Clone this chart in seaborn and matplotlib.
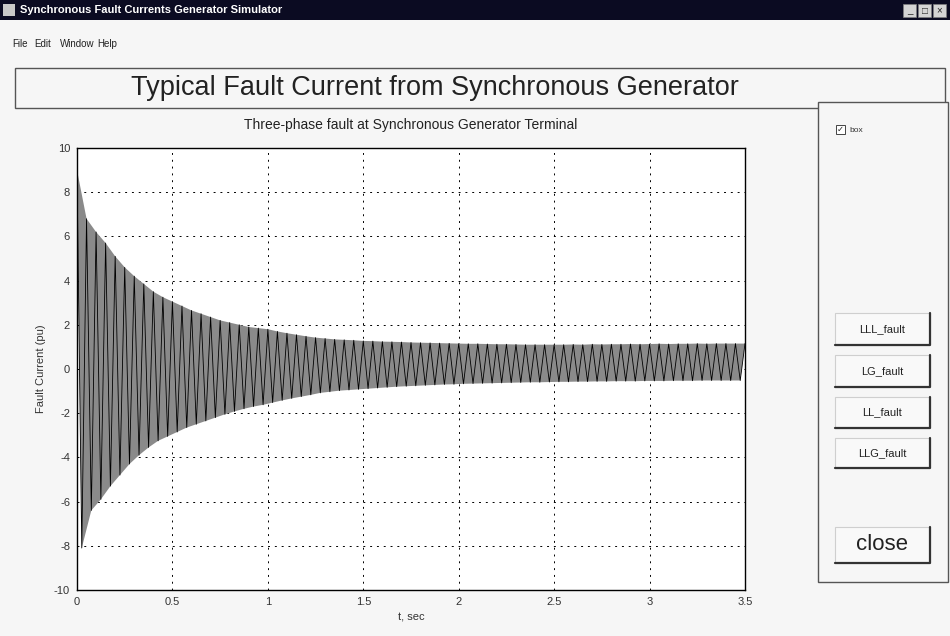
import numpy as np
import pandas as pd
import matplotlib
matplotlib.use('Agg')
import matplotlib.pyplot as plt
from matplotlib.patches import Rectangle
from matplotlib.lines import Line2D
import seaborn as sns

# positive peaks of the fault current (pu)
t_hi = [0.00, 0.05, 0.10, 0.15, 0.20, 0.25, 0.30, 0.35, 0.40, 0.45,
        0.50, 0.55, 0.60, 0.65, 0.70, 0.75, 0.80, 0.85, 0.90, 0.95,
        1.00, 1.05, 1.10, 1.15, 1.20, 1.25, 1.30, 1.35, 1.40, 1.45,
        1.50, 1.55, 1.60, 1.65, 1.70, 1.75, 1.80, 1.85, 1.90, 1.95,
        2.00, 2.05, 2.10, 2.15, 2.20, 2.25, 2.30, 2.35, 2.40, 2.45,
        2.50, 2.55, 2.60, 2.65, 2.70, 2.75, 2.80, 2.85, 2.90, 2.95,
        3.00, 3.05, 3.10, 3.15, 3.20, 3.25, 3.30, 3.35, 3.40, 3.45,
        3.50]
i_hi = [9.0, 6.8, 6.2, 5.7, 5.1, 4.6, 4.2, 3.85, 3.5, 3.25,
        3.05, 2.85, 2.65, 2.5, 2.35, 2.2, 2.1, 2.0, 1.9, 1.85,
        1.8, 1.7, 1.62, 1.55, 1.48, 1.42, 1.38, 1.34, 1.32, 1.3,
        1.27, 1.26, 1.24, 1.23, 1.22, 1.2, 1.19, 1.18, 1.17, 1.16,
        1.15, 1.14, 1.14, 1.13, 1.12, 1.12, 1.11, 1.1, 1.1, 1.1,
        1.1, 1.1, 1.11, 1.1, 1.12, 1.11, 1.12, 1.12, 1.13, 1.12,
        1.13, 1.14, 1.13, 1.14, 1.14, 1.15, 1.14, 1.15, 1.15, 1.15,
        1.15]

# negative peaks
t_lo = [0.025, 0.075, 0.125, 0.175, 0.225, 0.275, 0.325, 0.375, 0.425, 0.475,
        0.525, 0.575, 0.625, 0.675, 0.725, 0.775, 0.825, 0.875, 0.925, 0.975,
        1.025, 1.075, 1.125, 1.175, 1.225, 1.275, 1.325, 1.375, 1.425, 1.475,
        1.525, 1.575, 1.625, 1.675, 1.725, 1.775, 1.825, 1.875, 1.925, 1.975,
        2.025, 2.075, 2.125, 2.175, 2.225, 2.275, 2.325, 2.375, 2.425, 2.475,
        2.525, 2.575, 2.625, 2.675, 2.725, 2.775, 2.825, 2.875, 2.925, 2.975,
        3.025, 3.075, 3.125, 3.175, 3.225, 3.275, 3.325, 3.375, 3.425, 3.475]
i_lo = [-8.1, -6.4, -5.9, -5.3, -4.8, -4.3, -3.9, -3.55, -3.25, -3.05,
        -2.85, -2.65, -2.5, -2.35, -2.2, -2.05, -1.92, -1.8, -1.7, -1.62,
        -1.52, -1.42, -1.33, -1.25, -1.17, -1.08, -1.03, -0.98, -0.95, -0.92,
        -0.89, -0.86, -0.83, -0.8, -0.78, -0.76, -0.74, -0.72, -0.7, -0.69,
        -0.67, -0.66, -0.65, -0.64, -0.63, -0.62, -0.61, -0.6, -0.6, -0.59,
        -0.58, -0.58, -0.57, -0.57, -0.56, -0.56, -0.55, -0.55, -0.55, -0.54,
        -0.54, -0.54, -0.53, -0.53, -0.53, -0.52, -0.52, -0.52, -0.52, -0.52]

x_ticks = [0, 0.5, 1, 1.5, 2, 2.5, 3, 3.5]
x_ticklabels = ['0', '0.5', '1', '1.5', '2', '2.5', '3', '3.5']
y_ticks = [-10, -8, -6, -4, -2, 0, 2, 4, 6, 8, 10]
buttons = ['LLL_fault', 'LG_fault', 'LL_fault', 'LLG_fault']

df = pd.concat([pd.DataFrame({'t': t_hi, 'i': i_hi}),
                pd.DataFrame({'t': t_lo, 'i': i_lo})]).sort_values('t')

sns.set_style('white')
plt.rcParams['font.family'] = ['Liberation Sans', 'DejaVu Sans']
plt.rcParams['axes.unicode_minus'] = False

W, H = 950, 636
fig = plt.figure(figsize=(9.5, 6.36), dpi=100, facecolor='#f6f6f6')


def fx(x):
    return x / W


def fy(y):
    return 1 - y / H


def frect(x0, y0, x1, y1, **kw):
    fig.patches.append(Rectangle((fx(x0), fy(y1)), fx(x1) - fx(x0), fy(y0) - fy(y1),
                                 transform=fig.transFigure, figure=fig, **kw))


def fline(xs, ys, **kw):
    fig.lines.append(Line2D([fx(v) for v in xs], [fy(v) for v in ys],
                            transform=fig.transFigure, figure=fig, **kw))


# window title bar and menu
frect(0, 0, 950, 20, facecolor='#0b0b22', edgecolor='none')
frect(3, 4, 15, 16, facecolor='#c8c8c8', edgecolor='none')
fig.text(fx(20), fy(10), 'Synchronous Fault Currents Generator Simulator', color='white',
         fontsize=8, fontweight='bold', va='center')
for k, s in enumerate(['_', '\u25a1', '\u00d7']):
    frect(903 + k * 15, 4, 916 + k * 15, 17, facecolor='#d4d4d4', edgecolor='#808080', lw=0.5)
    fig.text(fx(909.5 + k * 15), fy(10.5), s, fontsize=7, ha='center', va='center')
for x, s in [(12, 'File'), (34, 'Edit'), (60, 'Window'), (97, 'Help')]:
    fig.text(fx(x), fy(44), s, fontsize=7, va='center', color='#222222')

# heading box
frect(15, 68, 945, 108, facecolor='none', edgecolor='#555555', lw=1.0)
fig.text(fx(435), fy(88), 'Typical Fault Current from Synchronous Generator',
         fontsize=19.5, ha='center', va='center', color='#222222')

# right control panel
frect(818, 102, 948, 582, facecolor='#f6f6f6', edgecolor='#555555', lw=1.0)
frect(836, 125, 845, 134, facecolor='white', edgecolor='#444444', lw=0.7)
fig.text(fx(840.5), fy(129.5), '\u2713', fontsize=6, ha='center', va='center', family='DejaVu Sans')
fig.text(fx(849), fy(130), 'box', fontsize=6, va='center', color='#333333')

btn_y = [(313, 345), (355, 387), (397, 428), (438, 468)]
for name, (y0, y1) in zip(buttons + ['close'], btn_y + [(527, 563)]):
    frect(835, y0, 930, y1, facecolor='#f9f9f9', edgecolor='#cfcfcf', lw=0.8)
    fline([835, 930, 930], [y1, y1, y0], color='#333333', lw=1.6)
    fs = 16 if name == 'close' else 8
    fig.text(fx(882), fy((y0 + y1) / 2), name, fontsize=fs, ha='center', va='center', color='#222222')

# plot axes
ax = fig.add_axes([fx(77), fy(590), fx(745) - fx(77), fy(148) - fy(590)])
ax.set_facecolor('white')
ax.fill(t_hi + t_lo[::-1], i_hi + i_lo[::-1], color='#8a8a8a', lw=0)
sns.lineplot(data=df, x='t', y='i', ax=ax, color='black', lw=0.6,
             estimator=None, sort=False)
ax.set_xlim(0, 3.5)
ax.set_ylim(-10, 10)
ax.set_xticks(x_ticks)
ax.set_xticklabels(x_ticklabels)
ax.set_yticks(y_ticks)
ax.grid(True, color='black', ls=(0, (2, 5)), lw=0.7)
ax.tick_params(labelsize=8, colors='#333333', length=3, direction='in', pad=5)
for s in ax.spines.values():
    s.set_color('black')
    s.set_linewidth(1.0)
ax.set_title('Three-phase fault at Synchronous Generator Terminal', fontsize=10, color='#222222', pad=14)
ax.set_xlabel('t, sec', fontsize=8, color='#333333', labelpad=4)
ax.set_ylabel('Fault Current (pu)', fontsize=8, color='#333333', labelpad=6)

fig.savefig('out.png', dpi=100, facecolor=fig.get_facecolor())
